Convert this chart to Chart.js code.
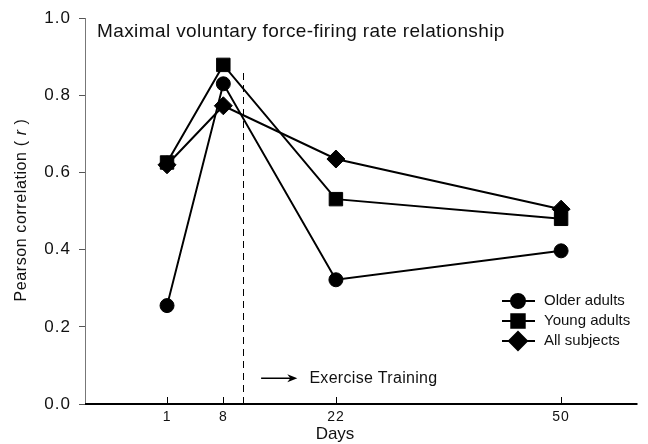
<!DOCTYPE html>
<html>
<head>
<meta charset="utf-8">
<script src="https://cdn.jsdelivr.net/npm/chart.js@4"></script>
<style>
  html, body { margin: 0; padding: 0; background: #fff; }
  #wrap { width: 648px; height: 444px; }
</style>
</head>
<body>
<div id="wrap"><canvas id="chart" width="648" height="444"></canvas></div>
<script>
// data
const days = [1, 8, 22, 50];
const olderAdults = [0.255, 0.83, 0.322, 0.397];
const youngAdults = [0.626, 0.879, 0.531, 0.48];
const allSubjects = [0.62, 0.773, 0.635, 0.505];
const yTicks = [0, 0.2, 0.4, 0.6, 0.8, 1.0];

const FONT = "Liberation Sans, Arial, sans-serif";

function pts(vals) {
  return days.map((d, i) => ({ x: d, y: vals[i] }));
}

function series(label, vals, style, radius) {
  return {
    label: label,
    data: pts(vals),
    showLine: true,
    borderColor: "#000",
    backgroundColor: "#000",
    borderWidth: 2,
    pointStyle: style,
    pointRadius: radius,
    pointBorderWidth: 1,
  };
}

// extra drawing: title, axis titles, dashed line, arrow, legend, inner x ticks
const decorations = {
  id: "decorations",
  beforeDraw(chart) {
    // the scanned figure's lettering runs a little wide
    chart.ctx.letterSpacing = "1px";
  },
  afterDraw(chart) {
    const ctx = chart.ctx;
    const xs = chart.scales.x;
    const ys = chart.scales.y;
    const area = chart.chartArea;
    ctx.save();

    // x tick marks pointing up into the plot
    ctx.strokeStyle = "#000";
    ctx.lineWidth = 1;
    days.forEach((d) => {
      const px = Math.round(xs.getPixelForValue(d)) + 0.5;
      ctx.beginPath();
      ctx.moveTo(px, area.bottom);
      ctx.lineTo(px, area.bottom - 7);
      ctx.stroke();
    });

    // x axis line
    ctx.lineWidth = 2;
    ctx.beginPath();
    ctx.moveTo(area.left, area.bottom);
    ctx.lineTo(area.right, area.bottom);
    ctx.stroke();

    // dashed start of training
    const dx = Math.round(xs.getPixelForValue(10.4)) + 0.5;
    ctx.lineWidth = 1;
    ctx.setLineDash([7, 5]);
    ctx.beginPath();
    ctx.moveTo(dx, ys.getPixelForValue(0));
    ctx.lineTo(dx, ys.getPixelForValue(0.86));
    ctx.stroke();
    ctx.setLineDash([]);

    // arrow + label
    const ay = ys.getPixelForValue(0.067);
    const ax1 = xs.getPixelForValue(12.7);
    const ax2 = xs.getPixelForValue(17.2);
    ctx.lineWidth = 1.5;
    ctx.beginPath();
    ctx.moveTo(ax1, ay);
    ctx.lineTo(ax2 - 4, ay);
    ctx.stroke();
    ctx.beginPath();
    ctx.moveTo(ax2, ay);
    ctx.lineTo(ax2 - 10, ay - 4);
    ctx.lineTo(ax2 - 7, ay);
    ctx.lineTo(ax2 - 10, ay + 4);
    ctx.closePath();
    ctx.fillStyle = "#000";
    ctx.fill();
    ctx.font = "16px " + FONT;
    ctx.letterSpacing = "0.3px";
    ctx.textBaseline = "middle";
    ctx.textAlign = "left";
    ctx.fillStyle = "#111";
    ctx.fillText("Exercise Training", xs.getPixelForValue(18.7), ay);

    // title inside the plot
    ctx.font = "19px " + FONT;
    ctx.letterSpacing = "0.4px";
    ctx.fillText("Maximal voluntary force-firing rate relationship", 97, 32);

    // x axis title
    ctx.textAlign = "center";
    ctx.font = "17px " + FONT;
    ctx.letterSpacing = "0px";
    ctx.fillText("Days", 335, 434);

    // y axis title with italic r
    ctx.save();
    ctx.translate(22, 210);
    ctx.rotate(-Math.PI / 2);
    ctx.letterSpacing = "0.6px";
    const a = "Pearson correlation ( ";
    const b = "r";
    const c = " )";
    ctx.font = "16px " + FONT;
    const wa = ctx.measureText(a).width;
    const wc = ctx.measureText(c).width;
    ctx.font = "italic 16px " + FONT;
    const wb = ctx.measureText(b).width;
    const x0 = -(wa + wb + wc) / 2;
    ctx.textAlign = "left";
    ctx.font = "16px " + FONT;
    ctx.fillText(a, x0, 0);
    ctx.font = "italic 16px " + FONT;
    ctx.fillText(b, x0 + wa, 0);
    ctx.font = "16px " + FONT;
    ctx.fillText(c, x0 + wa + wb, 0);
    ctx.restore();

    // legend
    const rows = [301, 321, 341];
    ctx.letterSpacing = "0px";
    chart.data.datasets.forEach((ds, i) => {
      const y = rows[i];
      ctx.strokeStyle = "#000";
      ctx.lineWidth = 2;
      ctx.beginPath();
      ctx.moveTo(502, y);
      ctx.lineTo(535, y);
      ctx.stroke();
      Chart.helpers.drawPoint(ctx, {
        pointStyle: ds.pointStyle,
        radius: ds.pointRadius,
        borderWidth: 1,
      }, 518, y);
      ctx.fillStyle = "#000";
      ctx.fill();
      ctx.fillStyle = "#111";
      ctx.font = "15px " + FONT;
      ctx.textAlign = "left";
      ctx.fillText(ds.label, 544, y);
    });

    ctx.restore();
  },
};

new Chart(document.getElementById("chart").getContext("2d"), {
  type: "scatter",
  data: {
    datasets: [
      series("Older adults", olderAdults, "circle", 7),
      series("Young adults", youngAdults, "rect", 9.5),
      series("All subjects", allSubjects, "rectRot", 9),
    ],
  },
  options: {
    responsive: false,
    animation: false,
    layout: { padding: { top: 14, right: 8, left: 0, bottom: 0 } },
    plugins: {
      legend: { display: false },
      tooltip: { enabled: false },
      title: { display: false },
    },
    elements: { line: { tension: 0 } },
    scales: {
      x: {
        type: "linear",
        min: -9.2,
        max: 59.5,
        afterBuildTicks(axis) {
          axis.ticks = days.map((v) => ({ value: v }));
        },
        afterFit(scale) { scale.height = 40; },
        grid: { display: false, drawTicks: false },
        border: { display: false },
        ticks: {
          color: "#111",
          font: { size: 14, family: FONT },
          padding: 5,
          maxRotation: 0,
          callback: (v) => String(v),
        },
      },
      y: {
        min: 0,
        max: 1,
        afterBuildTicks(axis) {
          axis.ticks = yTicks.map((v) => ({ value: v }));
        },
        afterFit(scale) { scale.width = 85; },
        grid: {
          drawOnChartArea: false,
          drawTicks: true,
          tickLength: 6,
          color: "#555",
        },
        border: { display: true, color: "#777", width: 1 },
        ticks: {
          color: "#111",
          font: { size: 17, family: FONT },
          padding: 8,
          callback: (v) => v.toFixed(1),
        },
      },
    },
  },
  plugins: [decorations],
});
</script>
</body>
</html>
